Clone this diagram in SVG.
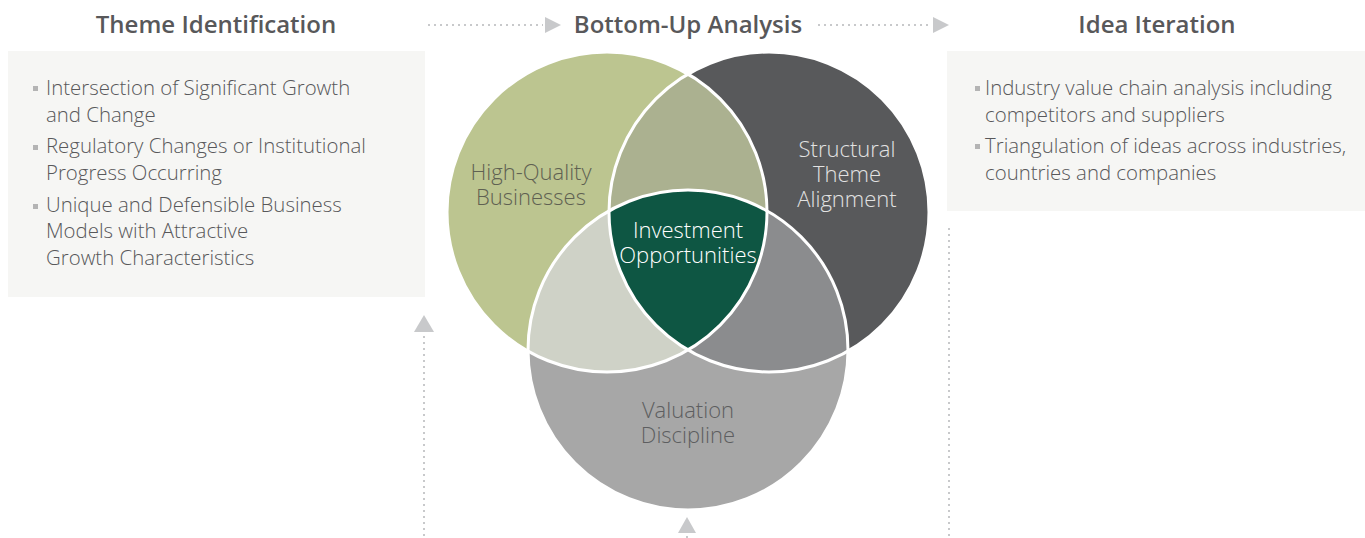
<svg xmlns="http://www.w3.org/2000/svg" width="1365" height="538" viewBox="0 0 1365 538">
<style>
.title{font-family:"Open Sans","Liberation Sans",sans-serif;font-weight:600;font-size:24px;fill:#58585a;text-anchor:middle}
.body{font-family:"Open Sans","Liberation Sans",sans-serif;font-weight:300;font-size:20.4px;fill:#58585a}
.lbl{font-family:"Open Sans","Liberation Sans",sans-serif;font-weight:300;font-size:22px;text-anchor:middle}
.box{fill:#f6f6f4}
.bul{fill:#b4b4b4}
.dot{stroke:#c8c9cb;stroke-width:2;stroke-dasharray:2 4;fill:none}
.head{fill:#c8c9cb}
.ring{fill:none;stroke:#fff;stroke-width:3}
</style>
<defs>
<clipPath id="cA"><circle cx="607" cy="212" r="160"/></clipPath>
<clipPath id="cB"><circle cx="769" cy="212" r="160"/></clipPath>
<clipPath id="cC"><circle cx="688" cy="350" r="160"/></clipPath>
</defs>

<g id="connectors">
<line class="dot" x1="428" y1="25" x2="543" y2="25"/>
<polygon class="head" points="545,17 561,25 545,33"/>
<line class="dot" x1="818" y1="25" x2="931" y2="25"/>
<polygon class="head" points="933,17 949,25 933,33"/>
<line class="dot" x1="424" y1="336" x2="424" y2="538"/>
<polygon class="head" points="414,332 424,315 434,332"/>
<line class="dot" x1="687" y1="536" x2="687" y2="538"/>
<polygon class="head" points="678,533 687,517 696,533"/>
<line class="dot" x1="949" y1="228" x2="949" y2="538"/>
</g>

<g id="theme-identification">
<text class="title" x="216" y="33">Theme Identification</text>
<rect class="box" x="8" y="51" width="417" height="246"/>
<rect class="bul" x="33" y="86" width="5" height="5"/>
<rect class="bul" x="33" y="145" width="5" height="5"/>
<rect class="bul" x="33" y="204" width="5" height="5"/>
<text class="body" x="46" y="95">Intersection of Significant Growth</text>
<text class="body" x="46" y="122">and Change</text>
<text class="body" x="46" y="153">Regulatory Changes or Institutional</text>
<text class="body" x="46" y="180">Progress Occurring</text>
<text class="body" x="46" y="212">Unique and Defensible Business</text>
<text class="body" x="46" y="238">Models with Attractive</text>
<text class="body" x="46" y="265">Growth Characteristics</text>
</g>

<g id="bottom-up-analysis">
<text class="title" x="688" y="33">Bottom-Up Analysis</text>
</g>

<g id="idea-iteration">
<text class="title" x="1157" y="33">Idea Iteration</text>
<rect class="box" x="947" y="51" width="418" height="160"/>
<rect class="bul" x="975" y="86" width="5" height="5"/>
<rect class="bul" x="975" y="144" width="5" height="5"/>
<text class="body" x="985" y="95">Industry value chain analysis including</text>
<text class="body" x="985" y="122">competitors and suppliers</text>
<text class="body" x="985" y="153">Triangulation of ideas across industries,</text>
<text class="body" x="985" y="180">countries and companies</text>
</g>

<g id="high-quality-businesses">
<circle cx="607" cy="212" r="160" fill="#bcc590"/>
</g>
<g id="structural-theme-alignment">
<circle cx="769" cy="212" r="160" fill="#58595b"/>
</g>
<g id="valuation-discipline">
<circle cx="688" cy="350" r="160" fill="#a7a7a7"/>
</g>
<g id="overlap-ab" clip-path="url(#cA)">
<circle cx="769" cy="212" r="160" fill="#abb190"/>
</g>
<g id="overlap-ac" clip-path="url(#cA)">
<circle cx="688" cy="350" r="160" fill="#cfd2c7"/>
</g>
<g id="overlap-bc" clip-path="url(#cB)">
<circle cx="688" cy="350" r="160" fill="#8b8c8e"/>
</g>
<g id="investment-opportunities">
<g clip-path="url(#cA)"><g clip-path="url(#cB)">
<circle cx="688" cy="350" r="160" fill="#0e5643"/>
</g></g>
</g>
<g id="rings">
<circle class="ring" cx="607" cy="212" r="160"/>
<circle class="ring" cx="769" cy="212" r="160"/>
<circle class="ring" cx="688" cy="350" r="160"/>
</g>
<g id="labels">
<text class="lbl" x="531" y="180" fill="#5f6152">High-Quality</text>
<text class="lbl" x="531" y="205" fill="#5f6152">Businesses</text>
<text class="lbl" x="847" y="157" fill="#e2e2e2">Structural</text>
<text class="lbl" x="847" y="182" fill="#e2e2e2">Theme</text>
<text class="lbl" x="847" y="207" fill="#e2e2e2">Alignment</text>
<text class="lbl" x="688" y="238" fill="#ffffff">Investment</text>
<text class="lbl" x="688" y="263" fill="#ffffff">Opportunities</text>
<text class="lbl" x="688" y="418" fill="#5d5e60">Valuation</text>
<text class="lbl" x="688" y="443" fill="#5d5e60">Discipline</text>
</g>
</svg>
